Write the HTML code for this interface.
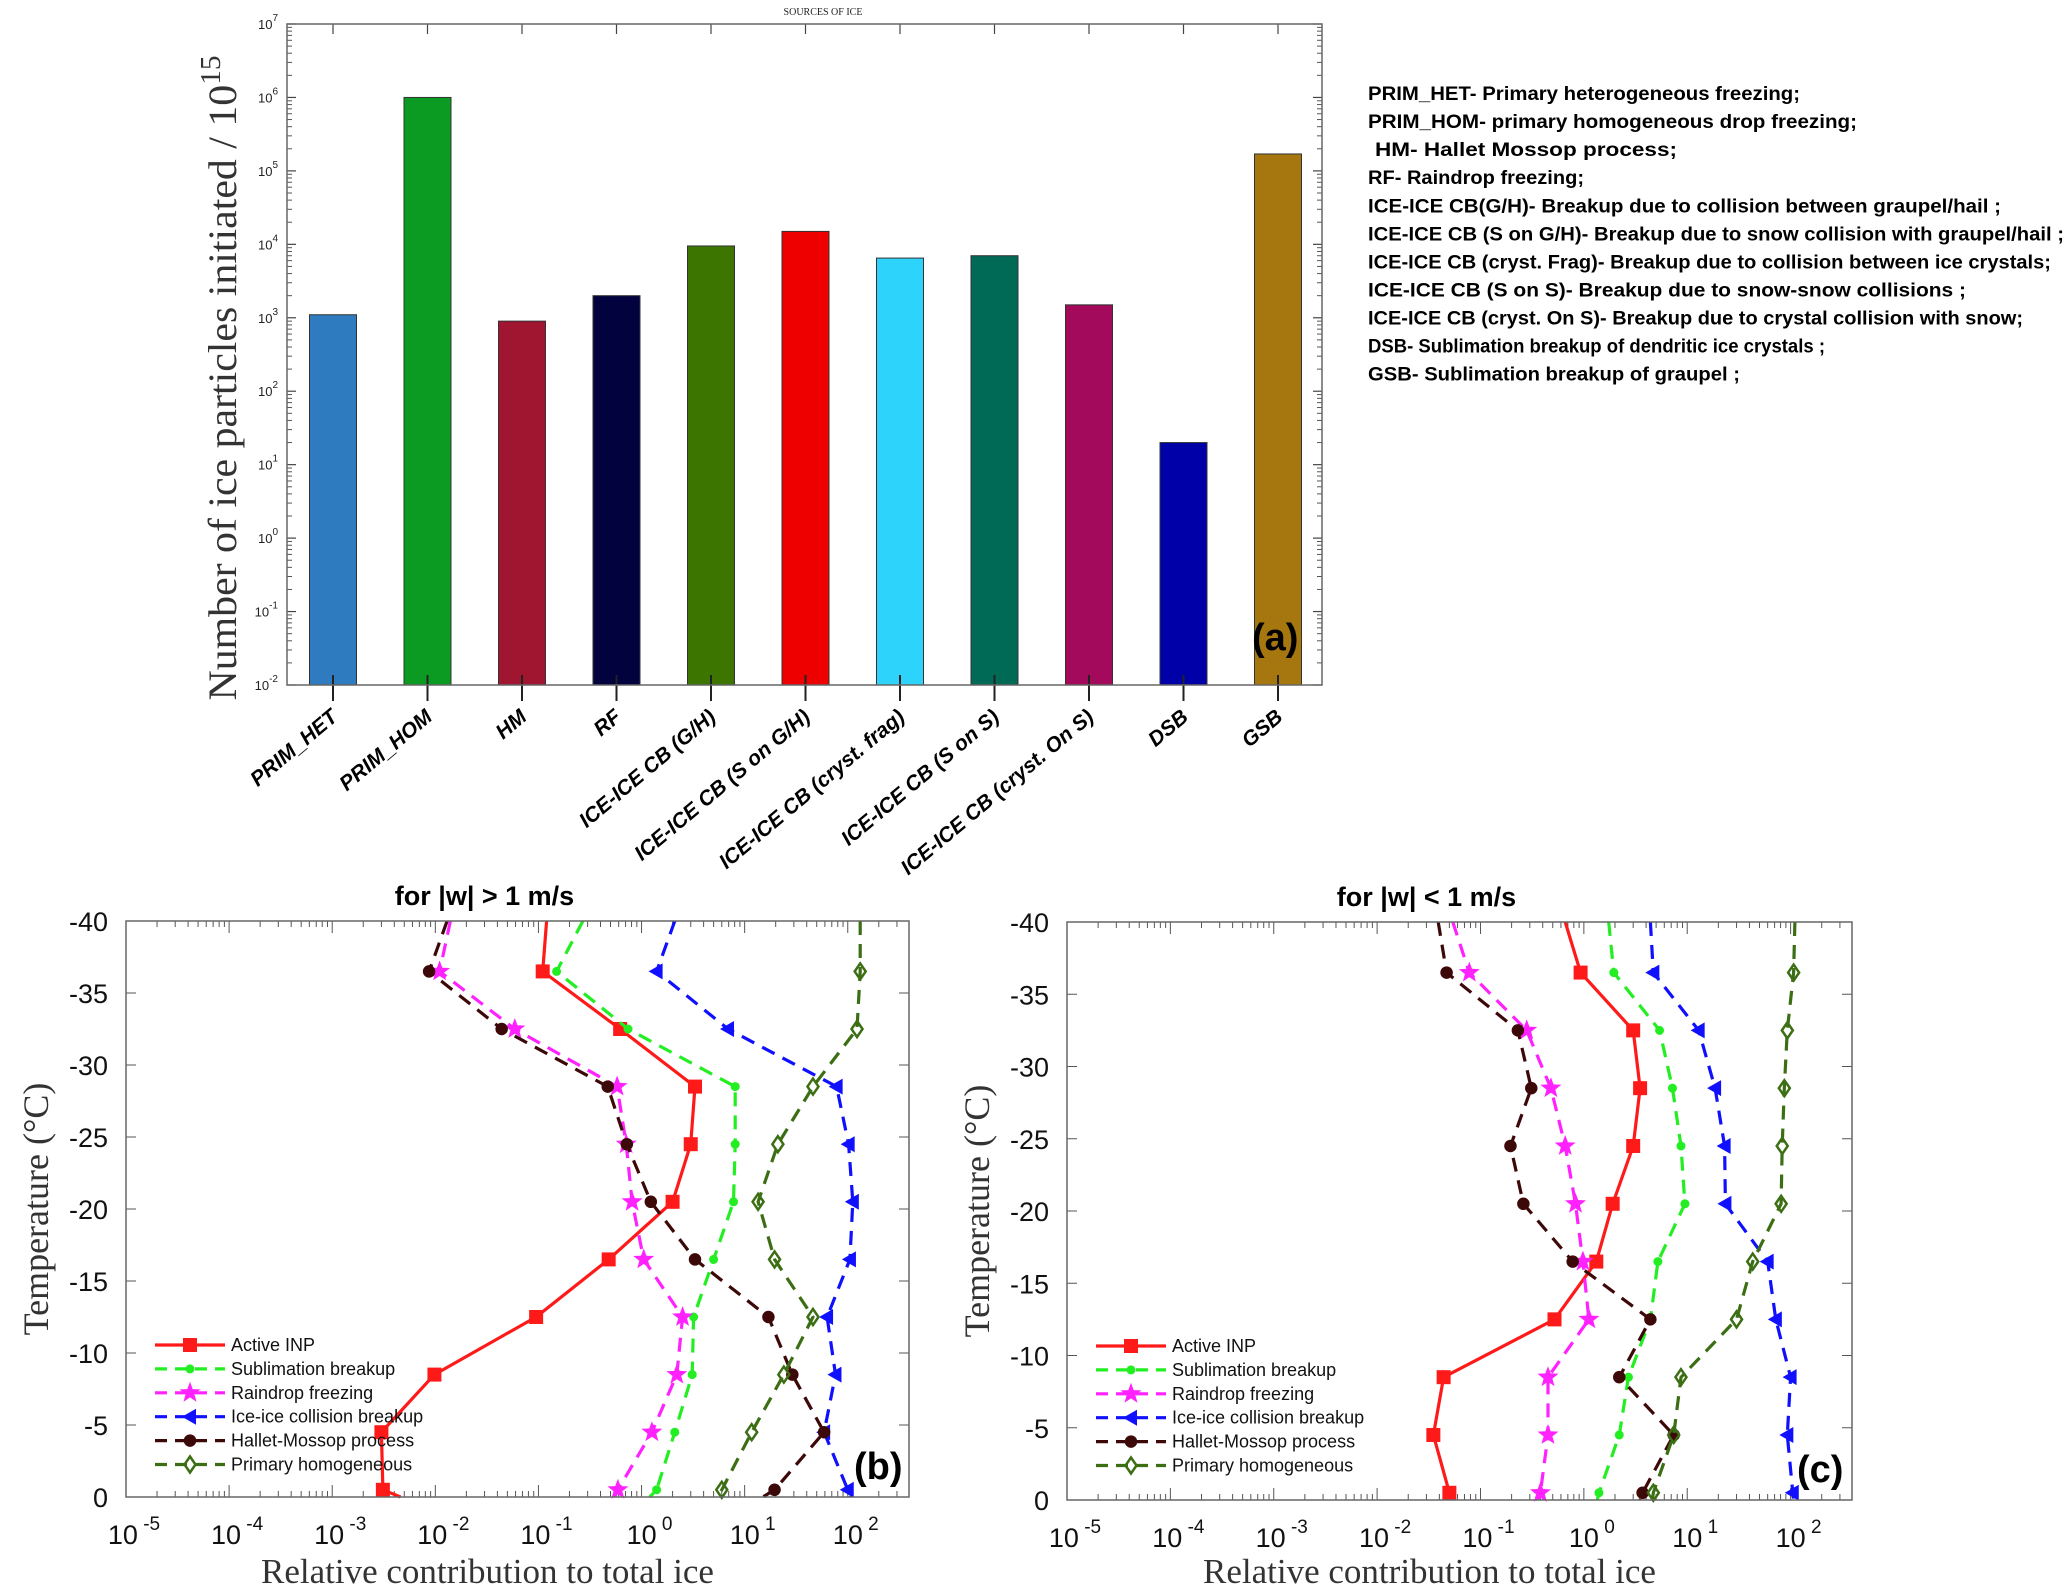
<!DOCTYPE html>
<html><head><meta charset="utf-8"><style>
html,body{margin:0;padding:0;background:#fff}
svg{display:block}
</style></head><body>
<svg id="fig" xmlns="http://www.w3.org/2000/svg" width="2067" height="1587" viewBox="0 0 2067 1587" font-family="Liberation Sans, sans-serif">
<rect width="2067" height="1587" fill="#fff"/>
<g id="panelA"></g>
<g id="legendA"></g>
<g id="panelB"></g>
<g id="panelC"></g>
</svg>
<script>
// ---------- Panel A data ----------
const barCategories = ["PRIM_HET","PRIM_HOM","HM","RF","ICE-ICE CB (G/H)","ICE-ICE CB (S on G/H)","ICE-ICE CB (cryst. frag)","ICE-ICE CB (S on S)","ICE-ICE CB (cryst. On S)","DSB","GSB"];
const barValues = [1100, 1000000, 900, 2000, 9500, 15000, 6500, 7000, 1500, 20, 170000];
const barColors = ["#2e7bc0","#0b9b22","#a01530","#02023f","#3c7600","#ee0000","#2ed3fb","#006a57","#a40a5c","#0000a8","#a6760f"];
const barYTicks = [-2,-1,0,1,2,3,4,5,6,7];

// ---------- Panels B/C data ----------
const temps = [-40,-36.5,-32.5,-28.5,-24.5,-20.5,-16.5,-12.5,-8.5,-4.5,-0.5,0];
const seriesNames = ["Active INP","Sublimation breakup","Raindrop freezing","Ice-ice collision breakup","Hallet-Mossop process","Primary homogeneous"];
const bINP  = [0.12,0.11,0.62,3.3,3.0,2.0,0.48,0.095,0.0098,0.0030,0.0031,0.0046];
const bSub  = [0.27,0.15,0.74,8.1,8.1,7.8,5.0,3.2,3.1,2.1,1.4,1.2];
const bRain = [0.014,0.011,0.059,0.58,0.71,0.81,1.05,2.5,2.2,1.26,0.59,0.55];
const bIce  = [2.1,1.4,6.9,78,102,112,105,63,76,59,100,107];
const bHM   = [0.013,0.0087,0.044,0.47,0.72,1.23,3.3,17,29,59,19.5,15];
const bPrim = [132,132,123,46,21,13.5,19.5,46,24,11.7,6.0,5.4];
const cINP  = [0.66,0.93,3.0,3.5,3.0,1.9,1.32,0.52,0.044,0.035,0.050,0.051];
const cSub  = [1.74,1.95,5.4,7.2,8.7,9.5,5.2,4.4,2.7,2.2,1.4,1.35];
const cRain = [0.054,0.078,0.28,0.48,0.66,0.83,0.98,1.12,0.45,0.45,0.38,0.37];
const cIce  = [4.4,4.7,12.9,18.6,23,23.4,60,72,100,93,105,107];
const cHM   = [0.039,0.047,0.23,0.31,0.195,0.26,0.78,4.4,2.2,7.4,3.7,3.5];
const cPrim = [110,107,93,87,83,81,43,30,8.7,7.4,4.7,4.6];
const tempTicks = [-40,-35,-30,-25,-20,-15,-10,-5,0];
const xDecades = [-5,-4,-3,-2,-1,0,1,2];

const legendLines = [
 ["PRIM_HET- Primary heterogeneous freezing;",432,1368],
 ["PRIM_HOM- primary homogeneous drop freezing;",489,1368],
 ["HM- Hallet Mossop process;",302,1375],
 ["RF- Raindrop freezing;",216,1368],
 ["ICE-ICE CB(G/H)-  Breakup due to collision between graupel/hail ;",633,1368],
 ["ICE-ICE CB (S on G/H)- Breakup due to  snow collision with graupel/hail ;",696,1368],
 ["ICE-ICE CB  (cryst. Frag)- Breakup due to  collision between ice crystals;",683,1368],
 ["ICE-ICE CB (S on S)- Breakup due to snow-snow collisions ;",598,1368],
 ["ICE-ICE CB  (cryst. On S)- Breakup due to crystal collision with snow;",655,1368],
 ["DSB- Sublimation breakup of dendritic ice crystals ;",457,1368],
 ["GSB- Sublimation breakup of graupel ;",372,1368]
];

const NS="http://www.w3.org/2000/svg";
function mk(parent, tag, attrs, text){
  const e=document.createElementNS(NS,tag);
  for(const k in attrs) e.setAttribute(k,attrs[k]);
  if(text!==undefined) e.textContent=text;
  parent.appendChild(e); return e;
}

// ---------- Panel A ----------
(function(){
  const g=document.getElementById('panelA');
  const L=287,R=1322,T=24,B=685;
  const y=v=>B-(Math.log10(v)+2)/9*(B-T);
  const step=94.5, c0=333, bw=47;
  const xc=i=>c0+i*step;
  for(let d=-2; d<7; d++){
    for(let m=2;m<=9;m++){
      const yy=y(m*Math.pow(10,d));
      const t=mk(g,'line',{x1:L,x2:L+5,y1:yy,y2:yy,stroke:'#555','stroke-width':1});
       
      const t2=mk(g,'line',{x1:R,x2:R-5,y1:yy,y2:yy,stroke:'#555','stroke-width':1});
       
    }
  }
  barYTicks.forEach(p=>{
    const yy=y(Math.pow(10,p));
    const t=mk(g,'line',{x1:L,x2:L+9,y1:yy,y2:yy,stroke:'#444','stroke-width':1.2});
     
    const t2=mk(g,'line',{x1:R,x2:R-9,y1:yy,y2:yy,stroke:'#444','stroke-width':1.2});
     
    const lb=mk(g,'text',{x:278,y:yy+5,'text-anchor':'end','font-size':13,fill:'#222'});
     
    mk(lb,'tspan',{},'10');
    mk(lb,'tspan',{dy:-8,'font-size':10},String(p));
  });
  barValues.forEach((v,i)=>{
    const yt=y(v);
    const r=mk(g,'rect',{x:xc(i)-bw/2,y:yt,width:bw,height:B-yt,fill:barColors[i],stroke:'#333','stroke-width':1});
    
    
    const tk=mk(g,'line',{x1:xc(i),x2:xc(i),y1:B-10,y2:B+16,stroke:'#222','stroke-width':2});
     
    const lb=mk(g,'text',{x:0,y:0,'text-anchor':'end','font-size':21,'font-weight':'bold','font-style':'italic',fill:'#000',transform:`translate(${xc(i)+6},${B+34}) rotate(-40)`},barCategories[i]);
     
  });
  barValues.forEach((v,i)=>{
    const tk=mk(g,'line',{x1:xc(i),x2:xc(i),y1:T,y2:T+10,stroke:'#444','stroke-width':1.2});
     
  });
  const box=mk(g,'rect',{x:L,y:T,width:R-L,height:B-T,fill:'none',stroke:'#666','stroke-width':1.5});
   
  const ttl=mk(g,'text',{x:823,y:15,'text-anchor':'middle','font-size':10,'font-family':'Liberation Serif, serif',fill:'#222'},'SOURCES OF ICE');
   
  const yt=mk(g,'text',{x:0,y:0,'text-anchor':'middle','font-size':40,'font-family':'Liberation Serif, serif',fill:'#333',transform:'translate(236,378) rotate(-90)',textLength:645,lengthAdjust:'spacingAndGlyphs'});
   
  mk(yt,'tspan',{},'Number of ice particles initiated  /  10');
  mk(yt,'tspan',{dy:-16,'font-size':28},'15');
  const pa=mk(g,'text',{x:1252,y:650,'font-size':38,'font-weight':'bold',fill:'#000'},'(a)');
   
})();

// ---------- Abbreviation legend ----------
(function(){
  const g=document.getElementById('legendA');
  legendLines.forEach((l,i)=>{
    const t=mk(g,'text',{x:l[2],y:100+i*28.07,'font-size':19,'font-weight':'bold',fill:'#000',textLength:l[1],lengthAdjust:'spacingAndGlyphs'},l[0]);
     
  });
})();

// ---------- Line panels ----------
function star(cx,cy,r){
  let p=[];
  for(let k=0;k<10;k++){const a=-Math.PI/2+k*Math.PI/5; const rr=k%2?r*0.42:r; p.push((cx+rr*Math.cos(a)).toFixed(1)+','+(cy+rr*Math.sin(a)).toFixed(1));}
  return p.join(' ');
}
function marker(g,type,x,y,color){
  let e;
  if(type==='square') e=mk(g,'rect',{x:x-7,y:y-7,width:14,height:14,fill:color});
  else if(type==='dot') e=mk(g,'circle',{cx:x,cy:y,r:4.5,fill:color});
  else if(type==='star') e=mk(g,'polygon',{points:star(x,y,11),fill:color});
  else if(type==='tri') e=mk(g,'polygon',{points:`${x-8},${y} ${x+6},${y-8} ${x+6},${y+8}`,fill:color});
  else if(type==='circle') e=mk(g,'circle',{cx:x,cy:y,r:5.5,fill:color,stroke:color,'stroke-width':1.5});
  else if(type==='diamond') e=mk(g,'polygon',{points:`${x},${y-8} ${x+5.5},${y} ${x},${y+8} ${x-5.5},${y}`,fill:'none',stroke:color,'stroke-width':2.5});
  return e;
}
const styles=[
 {c:'#ff1a1a',m:'square',dash:''},
 {c:'#22ee22',m:'dot',dash:'14 9'},
 {c:'#ff22ff',m:'star',dash:'14 9'},
 {c:'#1010ff',m:'tri',dash:'14 9'},
 {c:'#3d0808',m:'circle',dash:'14 9'},
 {c:'#3c6e14',m:'diamond',dash:'14 9'}
];
function linePanel(id,L,R,T,B,series,title,label){
  const g=document.getElementById(id);
  const lmin=-5,lmax=2.594;
  const x=v=>L+(Math.log10(v)-lmin)/(lmax-lmin)*(R-L);
  const y=t=>B-(t/-40)*(B-T);
  for(let d=-5; d<=2; d++){
    for(let m=1;m<=9;m++){
      const v=m*Math.pow(10,d); if(Math.log10(v)>lmax) break;
      const xx=x(v), len=m===1?12:6;
      const a=mk(g,'line',{x1:xx,x2:xx,y1:B,y2:B-len,stroke:'#555','stroke-width':1});
       
      const b=mk(g,'line',{x1:xx,x2:xx,y1:T,y2:T+len,stroke:'#555','stroke-width':1});
       
    }
  }
  xDecades.forEach(d=>{
    const xx=x(Math.pow(10,d));
    const lb=mk(g,'text',{x:xx+8,y:B+47,'text-anchor':'middle','font-size':27,fill:'#111'});
     
    mk(lb,'tspan',{},'10');
    mk(lb,'tspan',{dy:-14,'font-size':19},' '+String(d));
  });
  tempTicks.forEach(t=>{
    const yy=y(t);
    const a=mk(g,'line',{x1:L,x2:L+10,y1:yy,y2:yy,stroke:'#555','stroke-width':1});
     
    const b=mk(g,'line',{x1:R,x2:R-10,y1:yy,y2:yy,stroke:'#555','stroke-width':1});
     
    const lb=mk(g,'text',{x:L-18,y:yy+10,'text-anchor':'end','font-size':27,fill:'#111'},String(t));
     
  });
  series.forEach((vals,si)=>{
    const s=styles[si];
    const pts=vals.map((v,i)=>x(v).toFixed(1)+','+y(temps[i]).toFixed(1)).join(' ');
    const pl=mk(g,'polyline',{points:pts,fill:'none',stroke:s.c,'stroke-width':3.2,'stroke-dasharray':s.dash});
    
    
    vals.forEach((v,i)=>{
      if(i===0||i===vals.length-1) return;
      const m=marker(g,s.m,x(v),y(temps[i]),s.c);
      
      
    });
  });
  seriesNames.forEach((n,i)=>{
    const s=styles[i], yy=T+424+i*23.9, lx=L+29;
    const ln=mk(g,'line',{x1:lx,x2:lx+70,y1:yy,y2:yy,stroke:s.c,'stroke-width':3.2,'stroke-dasharray':s.dash?'12 8':''});
     
    const m=marker(g,s.m,lx+35,yy,s.c);
     
    const t=mk(g,'text',{x:lx+76,y:yy+6,'font-size':18,fill:'#111'},n);
     
  });
  const box=mk(g,'rect',{x:L,y:T,width:R-L,height:B-T,fill:'none',stroke:'#666','stroke-width':1.5});
   
  const tt=mk(g,'text',{x:(L+R)/2-33,y:T-16,'text-anchor':'middle','font-size':27,'font-weight':'bold',fill:'#000'},title);
   
  const xt=mk(g,'text',{x:(L+R)/2-30,y:1583,'text-anchor':'middle','font-size':35,'font-family':'Liberation Serif, serif',fill:'#333'},'Relative contribution to total ice');
   
  const yt=mk(g,'text',{x:0,y:0,'text-anchor':'middle','font-size':36,'font-family':'Liberation Serif, serif',fill:'#333',transform:`translate(${L-78},${(T+B)/2}) rotate(-90)`},'Temperature (°C)');
   
  const pl=mk(g,'text',{x:R-55,y:B-18,'font-size':38,'font-weight':'bold',fill:'#000'},label);
   
}
linePanel('panelB',126,909,921,1497,[bINP,bSub,bRain,bIce,bHM,bPrim],'for |w| > 1 m/s','(b)');
linePanel('panelC',1067,1852,922,1500,[cINP,cSub,cRain,cIce,cHM,cPrim],'for |w| < 1 m/s','(c)');
</script>
</body></html>
